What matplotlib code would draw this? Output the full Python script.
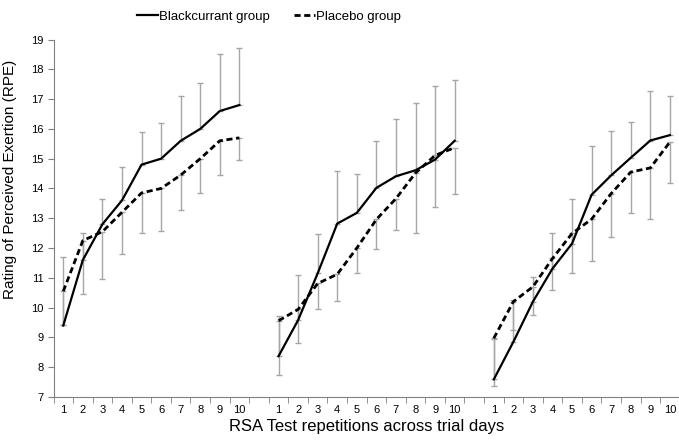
import numpy as np
import matplotlib.pyplot as plt

plt.rcParams['font.family'] = ['Liberation Sans', 'DejaVu Sans']

# repetitions 1..10 on each of the three trial days
reps = list(range(1, 11))
day_offsets = [0, 11, 22]   # one empty slot between days

# Blackcurrant group: mean RPE and SD (bar drawn upwards)
bc_mean = [
    [9.4, 11.6, 12.8, 13.6, 14.8, 15.0, 15.6, 16.0, 16.6, 16.8],
    [8.37, 9.58, 11.15, 12.82, 13.18, 14.02, 14.41, 14.61, 14.97, 15.6],
    [7.59, 8.85, 10.2, 11.31, 12.15, 13.79, 14.44, 15.03, 15.61, 15.79],
]
bc_sd = [
    [2.3, 0.9, 0.85, 1.13, 1.09, 1.2, 1.5, 1.55, 1.92, 1.91],
    [1.35, 1.53, 1.33, 1.77, 1.31, 1.56, 1.93, 2.27, 2.48, 2.05],
    [1.34, 1.4, 0.83, 1.18, 1.5, 1.65, 1.48, 1.2, 1.65, 1.31],
]

# Placebo group: mean RPE and SD (bar drawn downwards)
pl_mean = [
    [10.55, 12.25, 12.55, 13.2, 13.85, 14.0, 14.45, 15.0, 15.6, 15.7],
    [9.56, 9.94, 10.81, 11.12, 12.0, 12.96, 13.66, 14.52, 15.11, 15.37],
    [8.97, 10.2, 10.7, 11.65, 12.49, 12.97, 13.83, 14.55, 14.69, 15.56],
]
pl_sd = [
    [1.14, 1.8, 1.59, 1.41, 1.34, 1.44, 1.16, 1.15, 1.16, 0.73],
    [1.82, 1.12, 0.87, 0.89, 0.84, 0.98, 1.07, 2.01, 1.73, 1.57],
    [1.6, 0.95, 0.95, 1.06, 1.34, 1.4, 1.46, 1.39, 1.7, 1.38],
]

fig = plt.figure(figsize=(6.79, 4.41), dpi=100)
ax = fig.add_axes([0.0788, 0.0998, 0.9222, 0.8106])

err_col = '#a6a6a6'
for k, off in enumerate(day_offsets):
    x = np.array(reps) + off
    zero = np.zeros(len(x))
    # error bars first so the lines sit on top
    ax.errorbar(x, bc_mean[k], yerr=[zero, bc_sd[k]], fmt='none',
                ecolor=err_col, elinewidth=1, capsize=2, capthick=1, zorder=1)
    ax.errorbar(x, pl_mean[k], yerr=[pl_sd[k], zero], fmt='none',
                ecolor=err_col, elinewidth=1, capsize=2, capthick=1, zorder=1)
    l1, = ax.plot(x, bc_mean[k], color='black', lw=1.6, zorder=3)
    l2, = ax.plot(x, pl_mean[k], color='black', lw=2.0,
                  linestyle=(0, (2.2, 1.3)), zorder=3)

ax.set_xlim(0.5, 32.5)
ax.set_ylim(7, 19)
ax.set_yticks(range(7, 20))

# category style x axis: labels at centres, tick marks at the boundaries
xpos = [r + off for off in day_offsets for r in reps]
ax.set_xticks(xpos)
ax.set_xticklabels([str(r) for off in day_offsets for r in reps])
ax.set_xticks(np.arange(0.5, 33, 1.0), minor=True)
ax.tick_params(axis='x', which='major', length=0, pad=6, labelsize=8)
ax.tick_params(axis='x', which='minor', length=4, color='#808080')
ax.tick_params(axis='y', length=4, color='#808080', labelsize=8, pad=3)

for s in ['top', 'right']:
    ax.spines[s].set_visible(False)
for s in ['left', 'bottom']:
    ax.spines[s].set_color('#808080')

ax.set_xlabel('RSA Test repetitions across trial days', fontsize=12, labelpad=3)
ax.set_ylabel('Rating of Perceived Exertion (RPE)', fontsize=11)
ax.yaxis.set_label_coords(-0.058, 0.61)

fig.legend(handles=[l1, l2], labels=['Blackcurrant group', 'Placebo group'],
           loc='upper center', bbox_to_anchor=(0.396, 1.003), ncol=2,
           frameon=False, fontsize=9.5, handlelength=1.6, handletextpad=0.1,
           columnspacing=1.8)

plt.savefig('out.png', dpi=100)
